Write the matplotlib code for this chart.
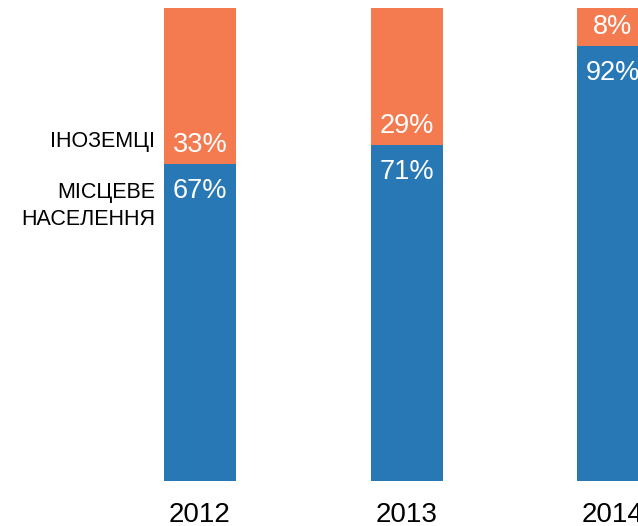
import matplotlib
matplotlib.use('Agg')
import matplotlib.pyplot as plt
import numpy as np

# data
years = ['2012', '2013', '2014']
local = [67, 71, 92]      # місцеве населення, %
foreign = [33, 29, 8]     # іноземці, %

blue = '#2878b5'
orange = '#f47a50'

plt.rcParams['font.family'] = ['Liberation Sans', 'DejaVu Sans']

fig = plt.figure(figsize=(6.38, 5.26), dpi=100)
ax = fig.add_axes([0, 45 / 526, 1, 473 / 526])

step = 206.5  # pixels between bars
x = np.arange(len(years))
w = 72 / step
ax.bar(x, local, width=w, color=blue)
ax.bar(x, foreign, width=w, bottom=local, color=orange)

ax.set_xlim(-200 / step, (638 - 200) / step)
ax.set_ylim(0, 100)
ax.axis('off')

for i in range(len(years)):
    ax.annotate(f'{foreign[i]}%', (x[i], local[i]), xytext=(0, 12),
                textcoords='offset pixels', ha='center', va='baseline',
                color='white', fontsize=19.5)
    ax.annotate(f'{local[i]}%', (x[i], local[i]), xytext=(0, -34),
                textcoords='offset pixels', ha='center', va='baseline',
                color='white', fontsize=19.5)
    ax.annotate(years[i], (x[i], 0), xytext=(0, -41),
                textcoords='offset pixels', ha='center', va='baseline',
                color='black', fontsize=20, annotation_clip=False)

# series labels on the left of the first bar
ax.annotate('ІНОЗЕМЦІ', (x[0] - w / 2, local[0]), xytext=(-9, 17),
            textcoords='offset pixels', ha='right', va='baseline', fontsize=15.5)
ax.annotate('МІСЦЕВЕ', (x[0] - w / 2, local[0]), xytext=(-9, -34),
            textcoords='offset pixels', ha='right', va='baseline', fontsize=15.5)
ax.annotate('НАСЕЛЕННЯ', (x[0] - w / 2, local[0]), xytext=(-9, -61),
            textcoords='offset pixels', ha='right', va='baseline', fontsize=15.5)

fig.savefig('out.png', dpi=100)
